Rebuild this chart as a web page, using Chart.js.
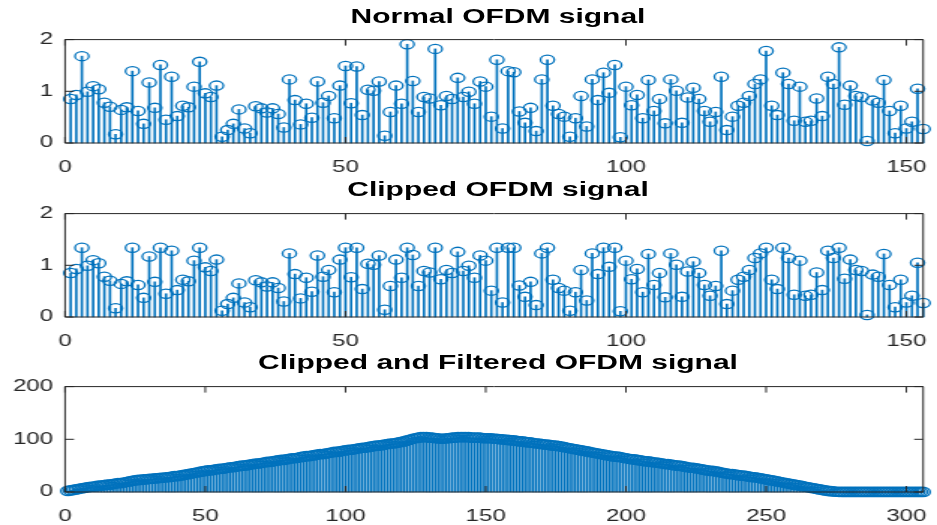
<!DOCTYPE html>
<html>
<head>
<meta charset="utf-8">
<script src="https://cdn.jsdelivr.net/npm/chart.js@4.4.1/dist/chart.umd.min.js"></script>
<style>
  html, body { margin: 0; padding: 0; background: #fff; }
  body { width: 937px; height: 525px; overflow: hidden; position: relative; }
  #wrap {
    position: absolute; left: 0; top: 0; width: 625px; height: 525px;
    transform: scaleX(1.4992); transform-origin: 0 0;
  }
  .title {
    position: absolute; left: 43.4px; width: 577.6px; height: 22px; line-height: 22px;
    text-align: center; font: bold 20px "Liberation Sans", Arial, sans-serif; color: #000;
    z-index: 2;
  }
  .box { position: absolute; left: 0; width: 625px; }
</style>
</head>
<body>
<div id="wrap">
  <div class="title" style="top:5px">Normal OFDM signal</div>
  <div class="box" style="top:22px;height:153px"><canvas id="normalChart"></canvas></div>
  <div class="title" style="top:178px">Clipped OFDM signal</div>
  <div class="box" style="top:196px;height:153px"><canvas id="clippedChart"></canvas></div>
  <div class="title" style="top:351px">Clipped and Filtered OFDM signal</div>
  <div class="box" style="top:369px;height:155px"><canvas id="filteredChart"></canvas></div>
</div>
<script>
// sample magnitudes (index 1..153)
const normalSignal = [
  0.85, 0.93, 1.68, 0.99, 1.10, 1.04, 0.78, 0.70, 0.17, 0.64,
  0.69, 1.39, 0.62, 0.37, 1.17, 0.68, 1.51, 0.45, 1.28, 0.52,
  0.72, 0.69, 1.09, 1.57, 0.96, 0.89, 1.11, 0.12, 0.25, 0.37,
  0.65, 0.28, 0.19, 0.71, 0.67, 0.59, 0.67, 0.56, 0.30, 1.23,
  0.83, 0.36, 0.76, 0.49, 1.19, 0.78, 0.91, 0.48, 1.11, 1.49,
  0.77, 1.48, 0.54, 1.03, 1.01, 1.19, 0.14, 0.60, 1.11, 0.76,
  1.91, 1.20, 0.60, 0.89, 0.86, 1.82, 0.73, 0.91, 0.85, 1.26,
  0.89, 0.99, 0.76, 1.19, 1.09, 0.51, 1.61, 0.28, 1.39, 1.37,
  0.61, 0.39, 0.68, 0.23, 1.23, 1.61, 0.72, 0.56, 0.51, 0.12,
  0.48, 0.91, 0.32, 1.23, 0.83, 1.36, 0.97, 1.51, 0.11, 1.09,
  0.73, 0.93, 0.48, 1.22, 0.62, 0.85, 0.38, 1.23, 1.01, 0.39,
  0.88, 1.07, 0.85, 0.62, 0.41, 0.60, 1.28, 0.25, 0.51, 0.72,
  0.78, 0.91, 1.14, 1.23, 1.78, 0.72, 0.54, 1.36, 1.14, 0.43,
  1.09, 0.41, 0.43, 0.86, 0.52, 1.28, 1.14, 1.85, 0.74, 1.11,
  0.91, 0.89, 0.04, 0.82, 0.78, 1.22, 0.62, 0.19, 0.72, 0.28,
  0.41, 1.05, 0.27
];

const clippedSignal = [
  0.85, 0.93, 1.34, 0.99, 1.10, 1.04, 0.78, 0.70, 0.17, 0.64,
  0.69, 1.34, 0.62, 0.37, 1.17, 0.68, 1.34, 0.45, 1.28, 0.52,
  0.72, 0.69, 1.09, 1.34, 0.96, 0.89, 1.11, 0.12, 0.25, 0.37,
  0.65, 0.28, 0.19, 0.71, 0.67, 0.59, 0.67, 0.56, 0.30, 1.23,
  0.83, 0.36, 0.76, 0.49, 1.19, 0.78, 0.91, 0.48, 1.11, 1.34,
  0.77, 1.34, 0.54, 1.03, 1.01, 1.19, 0.14, 0.60, 1.11, 0.76,
  1.34, 1.20, 0.60, 0.89, 0.86, 1.34, 0.73, 0.91, 0.85, 1.26,
  0.89, 0.99, 0.76, 1.19, 1.09, 0.51, 1.34, 0.28, 1.34, 1.34,
  0.61, 0.39, 0.68, 0.23, 1.23, 1.34, 0.72, 0.56, 0.51, 0.12,
  0.48, 0.91, 0.32, 1.23, 0.83, 1.34, 0.97, 1.34, 0.11, 1.09,
  0.73, 0.93, 0.48, 1.22, 0.62, 0.85, 0.38, 1.23, 1.01, 0.39,
  0.88, 1.07, 0.85, 0.62, 0.41, 0.60, 1.28, 0.25, 0.51, 0.72,
  0.78, 0.91, 1.14, 1.23, 1.34, 0.72, 0.54, 1.34, 1.14, 0.43,
  1.09, 0.41, 0.43, 0.86, 0.52, 1.28, 1.14, 1.34, 0.74, 1.11,
  0.91, 0.89, 0.04, 0.82, 0.78, 1.22, 0.62, 0.19, 0.72, 0.28,
  0.41, 1.05, 0.27
];

// index 1..306
const filteredSignal = [
  2, 3, 4, 5, 6, 7, 8, 9, 10, 10,
  11, 12, 12, 13, 14, 14, 15, 16, 17, 17,
  18, 19, 20, 21, 22, 23, 23, 24, 24, 25,
  25, 26, 26, 27, 27, 28, 28, 29, 30, 30,
  31, 32, 33, 34, 35, 36, 37, 38, 39, 40,
  41, 41, 42, 43, 44, 44, 45, 46, 47, 47,
  48, 49, 50, 50, 51, 52, 53, 54, 54, 55,
  56, 57, 57, 58, 59, 60, 61, 61, 62, 63,
  64, 64, 65, 66, 67, 68, 68, 69, 70, 71,
  72, 72, 73, 74, 75, 76, 76, 77, 78, 79,
  80, 80, 81, 82, 83, 84, 84, 85, 86, 87,
  88, 88, 89, 90, 91, 92, 92, 93, 94, 95,
  96, 98, 99, 101, 102, 103, 104, 104, 104, 103,
  103, 102, 102, 101, 101, 102, 102, 103, 103, 104,
  104, 104, 104, 104, 103, 103, 103, 103, 102, 102,
  102, 102, 101, 101, 100, 100, 99, 99, 98, 98,
  97, 96, 96, 95, 94, 94, 93, 92, 92, 91,
  90, 90, 89, 88, 88, 87, 86, 85, 84, 83,
  82, 81, 80, 79, 78, 77, 76, 75, 74, 73,
  72, 71, 70, 69, 68, 67, 67, 66, 65, 64,
  63, 62, 62, 61, 60, 59, 58, 58, 57, 56,
  56, 55, 54, 53, 53, 52, 51, 50, 50, 49,
  48, 47, 46, 46, 45, 44, 43, 42, 41, 40,
  40, 39, 38, 37, 36, 35, 34, 34, 33, 32,
  31, 31, 30, 29, 28, 28, 27, 26, 25, 24,
  23, 22, 21, 20, 19, 18, 17, 16, 15, 14,
  13, 12, 11, 10, 9, 8, 7, 6, 5, 4,
  3, 2, 1.5, 1, 0.5, 0.3, 0.2, 0.1, 0.1, 0.1,
  0.1, 0.1, 0.1, 0.1, 0.1, 0.1, 0.1, 0.1, 0.1, 0.1,
  0.1, 0.1, 0.1, 0.1, 0.1, 0.1, 0.1, 0.1, 0.1, 0.1,
  0.1, 0.1, 0.1, 0.1, 0.1, 0.1
];

const normalXTicks = [0, 50, 100, 150];
const normalYTicks = [0, 1, 2];
const filteredXTicks = [0, 50, 100, 150, 200, 250, 300];
const filteredYTicks = [0, 100, 200];

const stemBlue = '#0072BD';
const axisGray = '#262626';

Chart.defaults.font.family = '"Liberation Sans", Arial, sans-serif';
Chart.defaults.font.size = 16;
Chart.defaults.color = axisGray;

// box round the axes with inward ticks, like matlab
const matlabAxes = {
    id: 'matlabAxes',
    afterDatasetsDraw(chart) {
        const { ctx, chartArea: a, scales } = chart;
        ctx.save();
        ctx.strokeStyle = axisGray;
        ctx.lineWidth = 1;
        ctx.beginPath();
        ctx.rect(a.left, a.top, a.right - a.left, a.bottom - a.top);
        scales.x.ticks.forEach(t => {
            const px = scales.x.getPixelForValue(t.value);
            ctx.moveTo(px, a.bottom); ctx.lineTo(px, a.bottom - 6);
            ctx.moveTo(px, a.top); ctx.lineTo(px, a.top + 6);
        });
        scales.y.ticks.forEach(t => {
            const py = scales.y.getPixelForValue(t.value);
            ctx.moveTo(a.left, py); ctx.lineTo(a.left + 6, py);
            ctx.moveTo(a.right, py); ctx.lineTo(a.right - 6, py);
        });
        ctx.stroke();
        ctx.restore();
    }
};

function stemChart(id, values, xTicks, xMax, yTicks, stemWidth, markerLine) {
    const pts = values.map((v, i) => ({ x: i + 1, y: v }));
    new Chart(document.getElementById(id), {
        type: 'scatter',
        data: {
            datasets: [{
                type: 'bar',
                data: pts,
                backgroundColor: stemBlue,
                barThickness: stemWidth,
                order: 2,
                clip: false
            }, {
                type: 'scatter',
                data: pts,
                pointStyle: 'circle',
                pointRadius: 4.6,
                pointBorderWidth: markerLine,
                pointBorderColor: stemBlue,
                pointBackgroundColor: 'rgba(0,0,0,0)',
                order: 1,
                clip: false
            }]
        },
        options: {
            responsive: true,
            maintainAspectRatio: false,
            animation: false,
            events: [],
            layout: { padding: { top: 12, right: 4, left: 0, bottom: 0 } },
            plugins: { legend: { display: false }, tooltip: { enabled: false }, title: { display: false } },
            scales: {
                x: {
                    type: 'linear',
                    min: 0,
                    max: xMax,
                    offset: false,
                    // tick marks are drawn by matlabAxes; tickLength only pushes the labels down
                    grid: { display: false, drawTicks: true, tickLength: 8 },
                    border: { display: false },
                    afterFit: s => { s.height = 32; },
                    afterBuildTicks: s => { s.ticks = xTicks.map(v => ({ value: v })); },
                    ticks: { padding: 7, maxRotation: 0, autoSkip: false }
                },
                y: {
                    min: yTicks[0],
                    max: yTicks[yTicks.length - 1],
                    grid: { display: false, drawTicks: false },
                    border: { display: false },
                    afterFit: s => { s.width = 43.4; },
                    afterBuildTicks: s => { s.ticks = yTicks.map(v => ({ value: v })); },
                    ticks: { padding: 8 }
                }
            }
        },
        plugins: [matlabAxes]
    });
}

stemChart('normalChart', normalSignal, normalXTicks, 153, normalYTicks, 1, 1.3);
stemChart('clippedChart', clippedSignal, normalXTicks, 153, normalYTicks, 1, 1.3);
stemChart('filteredChart', filteredSignal, filteredXTicks, 306, filteredYTicks, 0.9, 1.5);
</script>
</body>
</html>
